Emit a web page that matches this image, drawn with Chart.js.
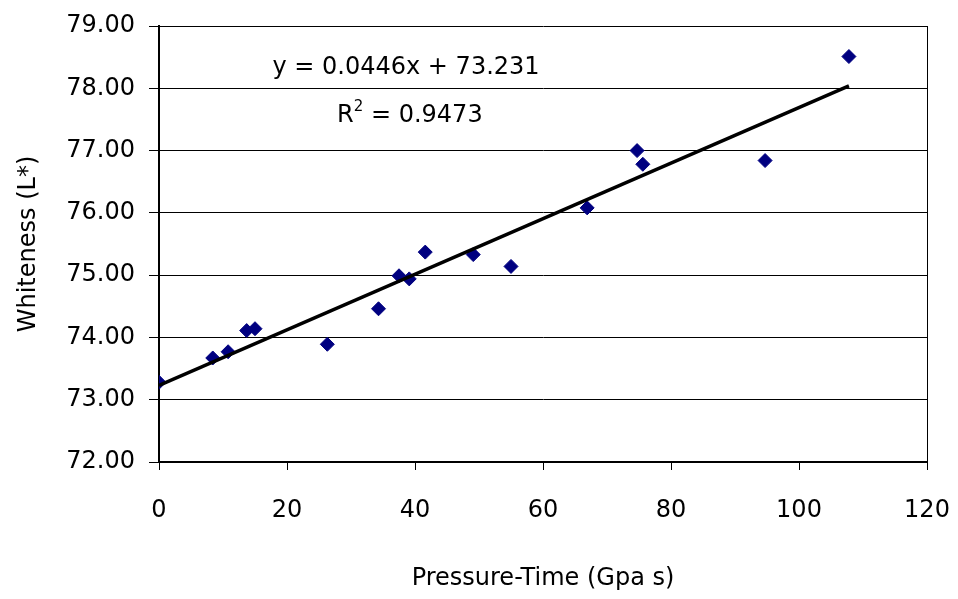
<!DOCTYPE html>
<html>
<head>
<meta charset="utf-8">
<title>Whiteness vs Pressure-Time</title>
<script src="https://cdn.jsdelivr.net/npm/chart.js@4/dist/chart.umd.min.js"></script>
<style>
  html, body { margin: 0; padding: 0; background: #fff; }
  #wrap { width: 958px; height: 599px; }
</style>
</head>
<body>
<div id="wrap"><canvas id="chart" width="958" height="599"></canvas></div>
<script>
// measured points (Pressure-Time in GPa s, Whiteness L*)
var pressureTime = [0, 8.4, 10.8, 13.7, 15.0, 26.3, 34.3, 37.5, 39.1, 41.6, 49.1, 55.0, 66.9, 74.7, 75.6, 94.7, 107.8];
var whiteness    = [73.28, 73.67, 73.77, 74.11, 74.14, 73.89, 74.46, 74.99, 74.94, 75.37, 75.33, 75.14, 76.08, 77.00, 76.78, 76.84, 78.51];

// linear trendline as printed on the chart
var trendSlope = 0.0446;
var trendIntercept = 73.231;
var trendX = [0, 107.8];

var xTicks = [0, 20, 40, 60, 80, 100, 120];
var yTicks = [72, 73, 74, 75, 76, 77, 78, 79];

var eqLabel = 'y = 0.0446x + 73.231';
var r2Value = '0.9473';

var FONT = '"DejaVu Sans", sans-serif';

function pts(xs, ys) {
  return xs.map(function(x, i){ return {x: x, y: ys[i]}; });
}

var trendPoints = trendX.map(function(x){ return {x: x, y: trendIntercept + trendSlope * x}; });

// writes the equation and R² in data coordinates
var equationText = {
  id: 'equationText',
  afterDatasetsDraw: function(chart) {
    var ctx = chart.ctx;
    var xs = chart.scales.x, ys = chart.scales.y;
    ctx.save();
    ctx.fillStyle = '#000';
    ctx.textBaseline = 'middle';
    ctx.font = '24px ' + FONT;
    ctx.textAlign = 'center';
    ctx.fillText(eqLabel, xs.getPixelForValue(38.6), ys.getPixelForValue(78.33));

    // R² with a real superscript
    var rest = ' = ' + r2Value;
    var wR = ctx.measureText('R').width;
    var wRest = ctx.measureText(rest).width;
    ctx.font = '15px ' + FONT;
    var w2 = ctx.measureText('2').width;
    var total = wR + w2 + wRest;
    var cx = xs.getPixelForValue(39.2), cy = ys.getPixelForValue(77.56);
    var left = cx - total / 2;
    ctx.textAlign = 'left';
    ctx.font = '24px ' + FONT;
    ctx.fillText('R', left, cy);
    ctx.font = '15px ' + FONT;
    ctx.fillText('2', left + wR, cy - 9);
    ctx.font = '24px ' + FONT;
    ctx.fillText(rest, left + wR + w2, cy);
    ctx.restore();
  }
};

new Chart(document.getElementById('chart'), {
  type: 'scatter',
  data: {
    datasets: [{
      label: 'Whiteness',
      data: pts(pressureTime, whiteness),
      pointStyle: 'rectRot',
      pointRadius: 7,
      pointHoverRadius: 7,
      backgroundColor: '#000080',
      borderColor: '#000080',
      borderWidth: 1,
      order: 2
    }, {
      label: 'Linear trend',
      data: trendPoints,
      type: 'line',
      showLine: true,
      pointRadius: 0,
      borderColor: '#000',
      borderWidth: 3.5,
      fill: false,
      order: 1
    }]
  },
  options: {
    responsive: false,
    animation: false,
    devicePixelRatio: 1,
    layout: { padding: { top: 26, right: 31, left: 0, bottom: 0 } },
    plugins: {
      legend: { display: false },
      tooltip: { enabled: false }
    },
    scales: {
      x: {
        type: 'linear',
        min: 0, max: 120,
        afterBuildTicks: function(axis){ axis.ticks = xTicks.map(function(v){ return {value: v}; }); },
        afterFit: function(axis){ axis.height = 137; axis.paddingLeft = 0; axis.paddingRight = 0; },
        ticks: { color: '#000', font: { family: FONT, size: 24 }, padding: 26, maxRotation: 0 },
        grid: {
          color: function(c){ return c.tick && c.tick.value === 120 ? '#000' : 'rgba(0,0,0,0)'; },
          tickColor: '#000',
          tickLength: 8,
          lineWidth: 1
        },
        border: { color: '#000', width: 2 },
        title: { display: true, text: 'Pressure-Time (Gpa s)', color: '#000', font: { family: FONT, size: 24 }, padding: { top: 0, bottom: 6 } }
      },
      y: {
        type: 'linear',
        min: 72, max: 79,
        afterBuildTicks: function(axis){ axis.ticks = yTicks.map(function(v){ return {value: v}; }); },
        afterFit: function(axis){ axis.width = 159; axis.paddingTop = 0; axis.paddingBottom = 0; },
        ticks: { color: '#000', font: { family: FONT, size: 24 }, padding: 14, callback: function(v){ return Number(v).toFixed(2); } },
        grid: { color: '#000', tickColor: '#000', tickLength: 10, lineWidth: 1 },
        border: { color: '#000', width: 2 },
        title: { display: true, text: 'Whiteness (L*)', color: '#000', font: { family: FONT, size: 24 }, padding: { top: 14, bottom: 0 } }
      }
    }
  },
  plugins: [equationText]
});
</script>
</body>
</html>
